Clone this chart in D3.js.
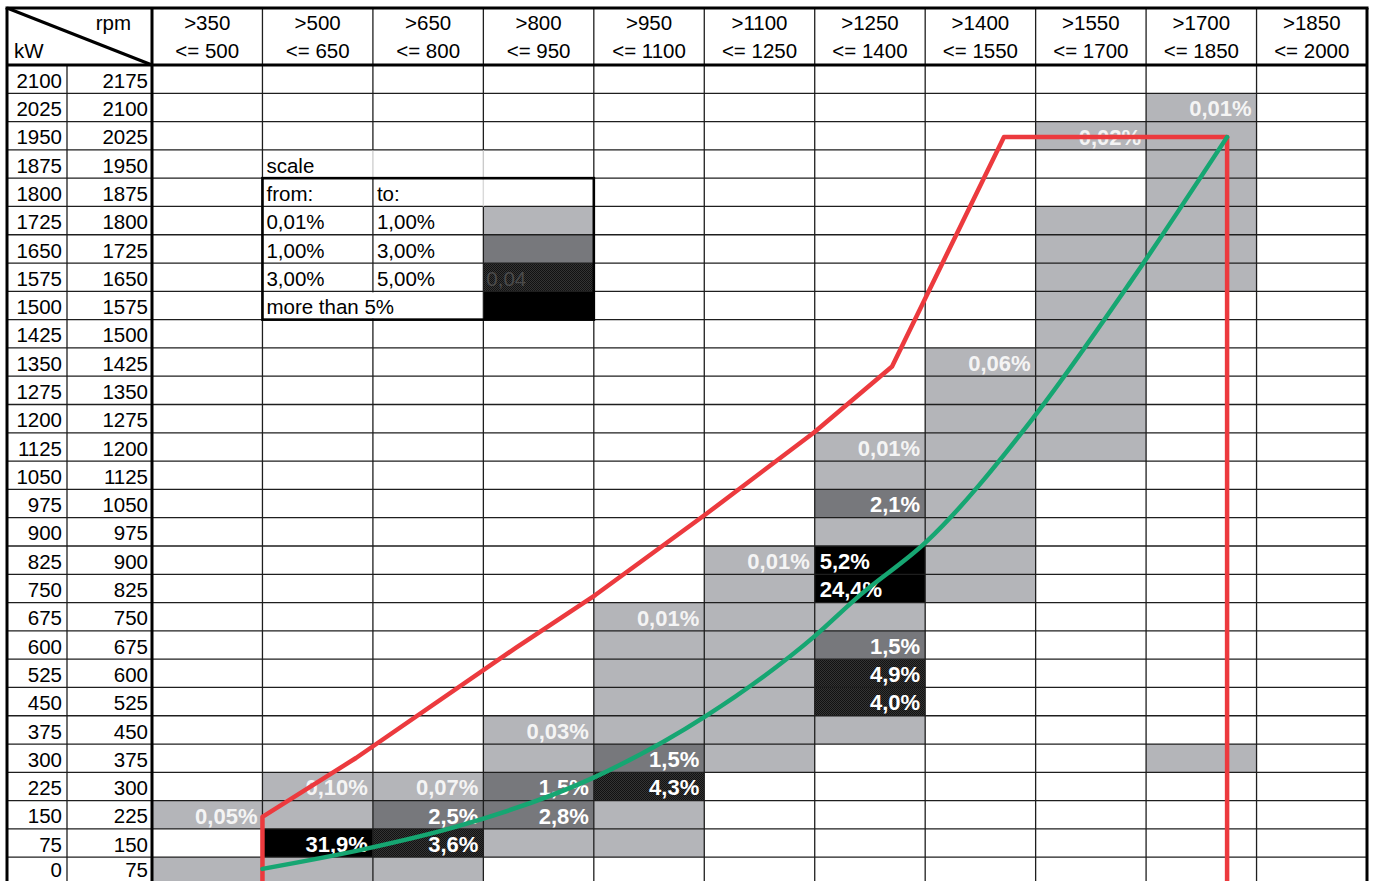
<!DOCTYPE html>
<html><head><meta charset="utf-8">
<script src="https://cdn.jsdelivr.net/npm/d3@7"></script>
<style>html,body{margin:0;padding:0;background:#fff;overflow:hidden}</style>
</head><body><svg id="c" width="1375" height="881"></svg>
<script>
// ---- data ----
const rpmEdges = [350, 500, 650, 800, 950, 1100, 1250, 1400, 1550, 1700, 1850, 2000];
const colLabelsTop = [">350", ">500", ">650", ">800", ">950", ">1100", ">1250", ">1400", ">1550", ">1700", ">1850"];
const colLabelsBottom = ["<= 500", "<= 650", "<= 800", "<= 950", "<= 1100", "<= 1250", "<= 1400", "<= 1550", "<= 1700", "<= 1850", "<= 2000"];
const rowKwFrom = [2100, 2025, 1950, 1875, 1800, 1725, 1650, 1575, 1500, 1425, 1350, 1275, 1200, 1125, 1050, 975, 900, 825, 750, 675, 600, 525, 450, 375, 300, 225, 150, 75, 0];
const rowKwTo = [2175, 2100, 2025, 1950, 1875, 1800, 1725, 1650, 1575, 1500, 1425, 1350, 1275, 1200, 1125, 1050, 975, 900, 825, 750, 675, 600, 525, 450, 375, 300, 225, 150, 75];
const kwStep = 75, rpmStep = 150;

// [rpm lower bound, kW lower bound, level (1: 0.01-1%, 2: 1-3%, 3: 3-5%, 4: >5%), label, align]
const shadedCells = [
  [350, 150, 1, "0,05%"], [350, 0, 1, ""],
  [500, 225, 1, "0,10%"], [500, 150, 1, ""], [500, 75, 4, "31,9%"], [500, 0, 1, ""],
  [650, 225, 1, "0,07%"], [650, 150, 2, "2,5%"], [650, 75, 3, "3,6%"], [650, 0, 1, ""],
  [800, 375, 1, "0,03%"], [800, 300, 1, ""], [800, 225, 2, "1,5%"], [800, 150, 2, "2,8%"], [800, 75, 1, ""],
  [950, 675, 1, "0,01%"], [950, 600, 1, ""], [950, 525, 1, ""], [950, 450, 1, ""], [950, 375, 1, ""],
  [950, 300, 2, "1,5%"], [950, 225, 3, "4,3%"], [950, 150, 1, ""], [950, 75, 1, ""],
  [1100, 825, 1, "0,01%"], [1100, 750, 1, ""], [1100, 675, 1, ""], [1100, 600, 1, ""], [1100, 525, 1, ""],
  [1100, 450, 1, ""], [1100, 375, 1, ""], [1100, 300, 1, ""],
  [1250, 1125, 1, "0,01%"], [1250, 1050, 1, ""], [1250, 975, 2, "2,1%"], [1250, 900, 1, ""],
  [1250, 825, 4, "5,2%", "left"], [1250, 750, 4, "24,4%", "left"], [1250, 675, 1, ""], [1250, 600, 2, "1,5%"],
  [1250, 525, 3, "4,9%"], [1250, 450, 3, "4,0%"], [1250, 375, 1, ""],
  [1400, 1350, 1, "0,06%"], [1400, 1275, 1, ""], [1400, 1200, 1, ""], [1400, 1125, 1, ""], [1400, 1050, 1, ""],
  [1400, 975, 1, ""], [1400, 900, 1, ""], [1400, 825, 1, ""], [1400, 750, 1, ""],
  [1550, 1950, 1, "0,02%"], [1550, 1725, 1, ""], [1550, 1650, 1, ""], [1550, 1575, 1, ""], [1550, 1500, 1, ""],
  [1550, 1425, 1, ""], [1550, 1350, 1, ""], [1550, 1275, 1, ""], [1550, 1200, 1, ""], [1550, 1125, 1, ""],
  [1700, 2025, 1, "0,01%"], [1700, 1950, 1, ""], [1700, 1875, 1, ""], [1700, 1800, 1, ""], [1700, 1725, 1, ""],
  [1700, 1650, 1, ""], [1700, 1575, 1, ""], [1700, 300, 1, ""]
];

// legend (scale) table
const legendTitle = "scale";
const legendHeader = ["from:", "to:"];
const legendFrom = ["0,01%", "1,00%", "3,00%", "more than 5%"];
const legendTo = ["1,00%", "3,00%", "5,00%", ""];
const legendLevels = [1, 2, 3, 4];
const legendSwatchText = ["", "", "0,04", ""];

// limit line (red) and propeller curve (green): [rpm], [kW]
const redRpm = [500, 500, 627, 844, 952, 1102, 1249, 1355, 1507, 1810, 1810];
const redKw  = [0, 182, 338, 630, 770, 984, 1201, 1376, 1984, 1984, 0];
const greenRpm = [500, 640, 767, 952, 1102, 1250, 1310, 1401, 1545, 1681, 1810];
const greenKw  = [44, 97, 158, 288, 449, 661, 767, 910, 1235, 1606, 1984];

// ---- drawing ----
const svg = d3.select("#c");
const x = d3.scaleLinear().domain([350, 2000]).range([152, 1367]);
const y = d3.scaleLinear().domain([0, 2175]).range([885.5, 65]);
const L = 7, T = 8, KWX = 67, HB = 65;
const font = "'Liberation Sans', Arial, Helvetica, sans-serif";
const levelFill = {1: "#b4b5b9", 2: "#77787c", 3: "url(#dith)", 4: "#000"};
const levelText = {1: "#f4f4f4", 2: "#ffffff", 3: "#ffffff", 4: "#ffffff"};
const baseY = k => Math.min(y(k) - 5.5, 876.5);

const defs = svg.append("defs");
const pat = defs.append("pattern").attr("id", "dith").attr("width", 2).attr("height", 2).attr("patternUnits", "userSpaceOnUse");
pat.append("rect").attr("width", 2).attr("height", 2).attr("fill", "#343434");
pat.append("rect").attr("width", 1).attr("height", 1).attr("fill", "#121212");
pat.append("rect").attr("x", 1).attr("y", 1).attr("width", 1).attr("height", 1).attr("fill", "#121212");

svg.append("rect").attr("width", 1375).attr("height", 881).attr("fill", "#fff");

// fills
svg.append("g").selectAll("rect").data(shadedCells).join("rect")
  .attr("x", d => x(d[0])).attr("width", d => x(d[0] + rpmStep) - x(d[0]))
  .attr("y", d => y(d[1] + kwStep)).attr("height", d => y(d[1]) - y(d[1] + kwStep))
  .attr("fill", d => levelFill[d[2]]);

// legend swatches (column 800-950, rows 1725..1500)
const legRows = [1725, 1650, 1575, 1500];
svg.append("g").selectAll("rect").data(legendLevels).join("rect")
  .attr("x", x(800)).attr("width", x(950) - x(800))
  .attr("y", (d, i) => y(legRows[i] + kwStep)).attr("height", (d, i) => y(legRows[i]) - y(legRows[i] + kwStep))
  .attr("fill", d => levelFill[d]);

// grid lines
const grid = svg.append("g").attr("stroke", "#1e1e1e").attr("stroke-width", 1.3);
const hLines = rowKwFrom.concat([2175]);
grid.selectAll("line.h").data(hLines).join("line").attr("class", "h")
  .attr("x1", L).attr("x2", x(2000)).attr("y1", d => y(d)).attr("y2", d => y(d));
grid.selectAll("line.v").data(rpmEdges).join("line").attr("class", "v")
  .attr("x1", d => x(d)).attr("x2", d => x(d)).attr("y1", T).attr("y2", 881);
grid.append("line").attr("x1", KWX).attr("x2", KWX).attr("y1", HB).attr("y2", 881);

// legend grid exceptions: faint / removed segments
const segs = [[650, 1875, "#c8c8c8"], [800, 1875, "#c8c8c8"], [800, 1800, "#d8d8d8"], [650, 1500, null]];
segs.forEach(s => {
  svg.append("line").attr("x1", x(s[0])).attr("x2", x(s[0]))
    .attr("y1", y(s[1] + kwStep) + 1).attr("y2", y(s[1]) - 1)
    .attr("stroke", "#fff").attr("stroke-width", 2.5);
  if (s[2]) svg.append("line").attr("x1", x(s[0])).attr("x2", x(s[0]))
    .attr("y1", y(s[1] + kwStep)).attr("y2", y(s[1]))
    .attr("stroke", s[2]).attr("stroke-width", 1.2);
});
// legend thick box
svg.append("rect").attr("x", x(500)).attr("y", y(1875)).attr("width", x(950) - x(500)).attr("height", y(1500) - y(1875))
  .attr("fill", "none").attr("stroke", "#000").attr("stroke-width", 2.6);

// header text
const hdr = svg.append("g").attr("font-family", font).attr("font-size", 20.5).attr("fill", "#000").attr("text-anchor", "middle");
colLabelsTop.forEach((t, i) => {
  const cx = (x(rpmEdges[i]) + x(rpmEdges[i + 1])) / 2;
  hdr.append("text").attr("x", cx).attr("y", 30).text(t);
  hdr.append("text").attr("x", cx).attr("y", 57.5).text(colLabelsBottom[i]);
});
svg.append("text").attr("x", 131).attr("y", 30).attr("text-anchor", "end").attr("font-family", font).attr("font-size", 20.5).text("rpm");
svg.append("text").attr("x", 14).attr("y", 57.5).attr("font-family", font).attr("font-size", 20.5).text("kW");
svg.append("line").attr("x1", L).attr("y1", T).attr("x2", 152).attr("y2", HB).attr("stroke", "#000").attr("stroke-width", 3);

// row labels
const rl = svg.append("g").attr("font-family", font).attr("font-size", 20.5).attr("fill", "#000").attr("text-anchor", "end");
rowKwFrom.forEach((k, i) => {
  rl.append("text").attr("x", 62).attr("y", baseY(k)).text(k);
  rl.append("text").attr("x", 148).attr("y", baseY(k)).text(rowKwTo[i]);
});

// legend text
const lg = svg.append("g").attr("font-family", font).attr("font-size", 20.5).attr("fill", "#000");
lg.append("text").attr("x", x(500) + 4).attr("y", y(1875) - 5.5).text(legendTitle);
lg.append("text").attr("x", x(500) + 4).attr("y", y(1800) - 5.5).text(legendHeader[0]);
lg.append("text").attr("x", x(650) + 4).attr("y", y(1800) - 5.5).text(legendHeader[1]);
legRows.forEach((r, i) => {
  lg.append("text").attr("x", x(500) + 4).attr("y", y(r) - 5.5).text(legendFrom[i]);
  if (legendTo[i]) lg.append("text").attr("x", x(650) + 4).attr("y", y(r) - 5.5).text(legendTo[i]);
  if (legendSwatchText[i]) lg.append("text").attr("x", x(800) + 3).attr("y", y(r) - 5.5).attr("fill", "#4a4a4a").text(legendSwatchText[i]);
});

// cell labels
svg.append("g").attr("font-family", font).attr("font-size", 22).attr("font-weight", "bold")
  .selectAll("text").data(shadedCells.filter(d => d[3])).join("text")
  .attr("x", d => d[4] === "left" ? x(d[0]) + 5 : x(d[0] + rpmStep) - 5)
  .attr("text-anchor", d => d[4] === "left" ? "start" : "end")
  .attr("y", d => y(d[1]) - 5.3)
  .attr("fill", d => levelText[d[2]])
  .text(d => d[3]);

// thick borders
const tb = svg.append("g").attr("stroke", "#000").attr("stroke-width", 3);
tb.append("line").attr("x1", L - 1.5).attr("x2", x(2000) + 1.5).attr("y1", T).attr("y2", T);
tb.append("line").attr("x1", L).attr("x2", L).attr("y1", T).attr("y2", 881);
tb.append("line").attr("x1", x(2000)).attr("x2", x(2000)).attr("y1", T).attr("y2", 881);
tb.append("line").attr("x1", 152).attr("x2", 152).attr("y1", T).attr("y2", 881);
tb.append("line").attr("x1", L).attr("x2", x(2000)).attr("y1", HB).attr("y2", HB);

// curves
const redPts = redRpm.map((r, i) => [r, redKw[i]]);
const greenPts = greenRpm.map((r, i) => [r, greenKw[i]]);
svg.append("path").datum(redPts)
  .attr("d", d3.line().x(d => x(d[0])).y(d => y(d[1])))
  .attr("fill", "none").attr("stroke", "#ec3a3e").attr("stroke-width", 4.5).attr("stroke-linejoin", "round");
svg.append("path").datum(greenPts)
  .attr("d", d3.line().x(d => x(d[0])).y(d => y(d[1])).curve(d3.curveMonotoneX))
  .attr("fill", "none").attr("stroke", "#16a672").attr("stroke-width", 4.5).attr("stroke-linecap", "round");
</script>
</body></html>
